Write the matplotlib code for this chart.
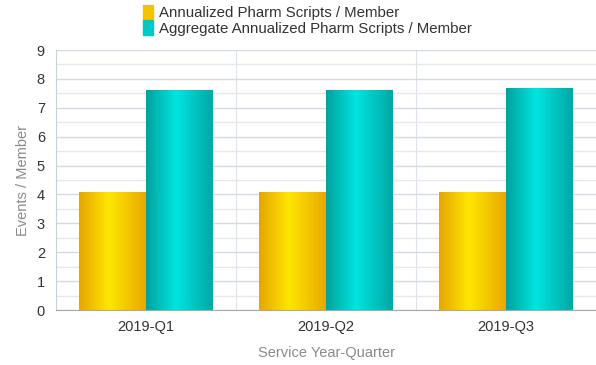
import numpy as np
import matplotlib
matplotlib.use("Agg")
from matplotlib import pyplot as plt
from matplotlib.colors import LinearSegmentedColormap
from matplotlib.patches import Rectangle

plt.rcParams["font.family"] = ["Liberation Sans", "DejaVu Sans"]

# Data
quarters = ["2019-Q1", "2019-Q2", "2019-Q3"]
scripts_per_member = [4.1, 4.1, 4.1]
aggregate_per_member = [7.6, 7.6, 7.7]
series_names = ["Annualized Pharm Scripts / Member",
                "Aggregate Annualized Pharm Scripts / Member"]

# Horizontal shading for the bars: dark edges, bright middle
gold = LinearSegmentedColormap.from_list(
    "gold", [(0, "#e6a600"), (0.45, "#ffe600"), (1, "#e9a800")])
teal = LinearSegmentedColormap.from_list(
    "teal", [(0, "#00a29d"), (0.45, "#00e4e0"), (1, "#00a8a4")])

fig = plt.figure(figsize=(5.96, 3.65), dpi=100)
ax = fig.add_axes([56 / 596, 55 / 365, 540 / 596, 260 / 365])

x = np.arange(len(quarters))
width = 0.37
ramp = np.linspace(0, 1, 256).reshape(1, -1)

def shaded_bars(xs, heights, cmap):
    bars = ax.bar(xs, heights, width, color="none", edgecolor="none", zorder=2)
    for bar in bars:
        x0, y0 = bar.get_x(), bar.get_y()
        w, h = bar.get_width(), bar.get_height()
        im = ax.imshow(ramp, cmap=cmap, aspect="auto",
                       extent=[x0, x0 + w, y0, y0 + h], zorder=2)
        im.set_clip_path(bar)
    return bars

shaded_bars(x - width / 2, scripts_per_member, gold)
shaded_bars(x + width / 2, aggregate_per_member, teal)

ax.set_xlim(-0.5, len(quarters) - 0.5)
ax.set_ylim(0, 9)
ax.set_xticks(x)
ax.set_xticklabels(quarters, fontsize=10.5, color="#333333")
ax.set_yticks(range(10))
ax.set_yticks(np.arange(0.5, 9, 1), minor=True)
ax.tick_params(axis="y", labelsize=10.5, colors="#333333", length=0, pad=8)
ax.tick_params(axis="y", which="minor", length=0)
ax.tick_params(axis="x", length=0, pad=7)

# Grid: horizontal lines at every half unit, vertical lines between quarters
ax.grid(axis="y", which="major", color="#d5dbe1", linewidth=1, zorder=0)
ax.grid(axis="y", which="minor", color="#e6e8ee", linewidth=1, zorder=0)
for b in x[:-1] + 0.5:
    ax.axvline(b, color="#dde3e8", linewidth=0.8, zorder=0)

for side in ["top", "right"]:
    ax.spines[side].set_visible(False)
ax.spines["left"].set_color("#c8d0d8")
ax.spines["bottom"].set_color("#a8a8a8")

ax.set_ylabel("Events / Member", fontsize=10.5, color="#8a8a8a", labelpad=5)
ax.set_xlabel("Service Year-Quarter", fontsize=10.5, color="#8a8a8a", labelpad=9)

handles = [Rectangle((0, 0), 1, 1, color="#f5c400"),
           Rectangle((0, 0), 1, 1, color="#00c8c4")]
fig.legend(handles, series_names, loc="upper left",
           bbox_to_anchor=(129 / 596, 1.023), frameon=False, fontsize=10.8,
           handlelength=0.7, handleheight=1.1, handletextpad=0.4,
           labelspacing=0.0, labelcolor="#333333")

fig.savefig("out.png", dpi=100)
